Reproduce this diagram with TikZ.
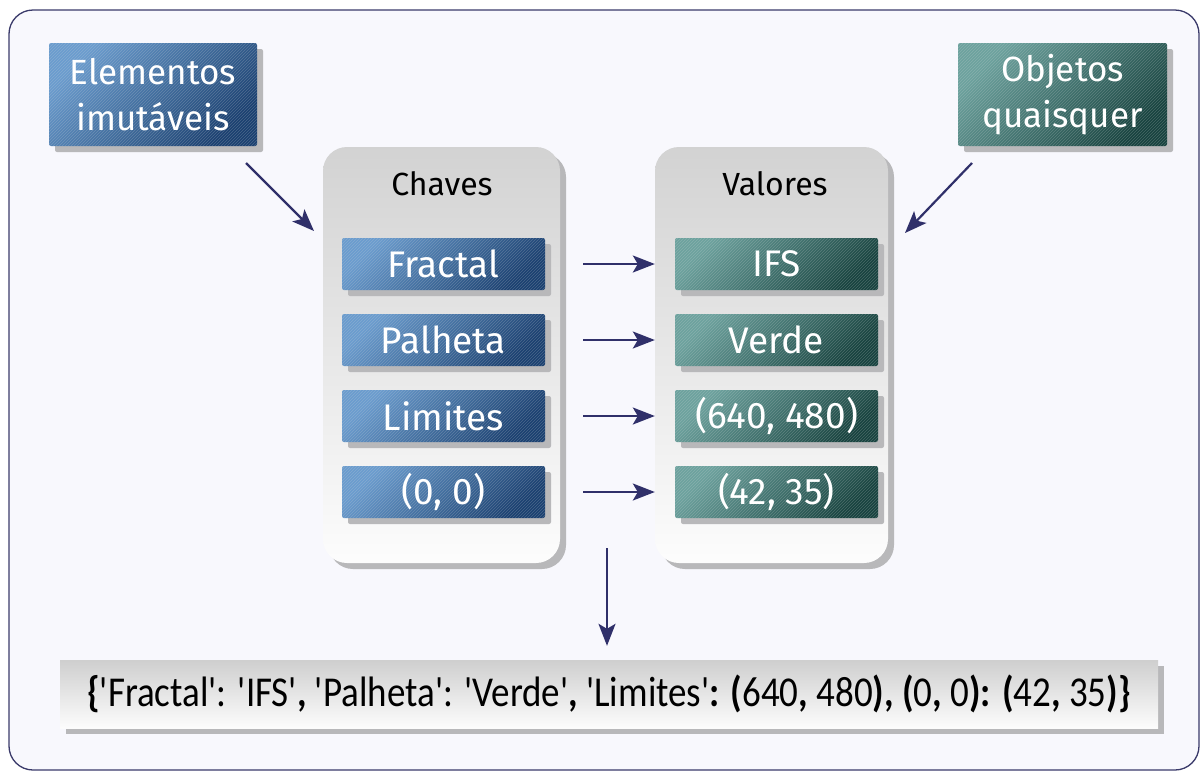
\documentclass[tikz,border=0pt]{standalone}
\usepackage{fontspec}
\usepackage{graphicx}
\setmainfont{Fira Sans}
\newfontfamily\codefont{Carlito}
\usetikzlibrary{arrows.meta,shadows,patterns}
\definecolor{bgc}{HTML}{F8F8FD}
\definecolor{framec}{HTML}{3A3A6A}
\definecolor{arrc}{HTML}{30306A}
\definecolor{bluel}{HTML}{6A9CCE}
\definecolor{blued}{HTML}{1A4070}
\definecolor{teall}{HTML}{6CA29E}
\definecolor{teald}{HTML}{17433F}
\definecolor{shadc}{HTML}{B8B8BA}
\tikzset{
  hatch/.style={postaction={pattern=north east lines, pattern color=white!70!gray, opacity=0.25}},
  sh/.style={drop shadow={shadow xshift=6pt, shadow yshift=-6pt, fill=shadc, opacity=1}},
  bluebox/.style={sh, rounded corners=2pt, top color=bluel, bottom color=blued, shading angle=45, hatch, text=white, align=center, inner sep=0pt},
  tealbox/.style={sh, rounded corners=2pt, top color=teall, bottom color=teald, shading angle=45, hatch, text=white, align=center, inner sep=0pt},
  rowbox/.style={minimum width=203pt, minimum height=52pt, font=\fontsize{37}{40}\selectfont},
  bigbox/.style={minimum width=208pt, minimum height=103pt, font=\fontsize{35}{46}\selectfont},
  container/.style={sh, rounded corners=24pt, top color=gray!35, bottom color=white!98!gray, minimum width=237pt, minimum height=416pt, inner sep=0pt},
  arr/.style={draw=arrc, line width=2.2pt, -{Stealth[length=22pt,width=17pt,inset=5pt]}},
}
\begin{document}
\begin{tikzpicture}[x=1pt,y=-1pt]
\useasboundingbox (0,0) rectangle (1200,772);
\draw[fill=bgc, draw=framec, line width=1.3pt, rounded corners=24pt] (9,10) rectangle (1199,770);

% containers
\node[container] (chaves) at (441.5,355) {};
\node[container, minimum width=233pt] (valores) at (771.5,355) {};
\node[font=\fontsize{32}{36}\selectfont] (chl) at (442,184) {Chaves};
\node[font=\fontsize{32}{36}\selectfont] (val) at (775,184) {Valores};

% top boxes
\node[bluebox, bigbox] (elem) at (153,94.5) {Elementos\\imutáveis};
\node[tealbox, bigbox, minimum width=209pt] (obj) at (1062.5,94.5) {Objetos\\quaisquer};

% key boxes
\node[bluebox, rowbox] (k1) at (443.5,264) {Fractal};
\node[bluebox, rowbox] (k2) at (443.5,340) {Palheta};
\node[bluebox, rowbox] (k3) at (443.5,416) {Limites};
\node[bluebox, rowbox] (k4) at (443.5,492) {(0, 0)};

% value boxes
\node[tealbox, rowbox] (v1) at (776.5,264) {IFS};
\node[tealbox, rowbox] (v2) at (776.5,340) {Verde};
\node[tealbox, rowbox] (v3) at (776.5,416) {(640, 480)};
\node[tealbox, rowbox] (v4) at (776.5,492) {(42, 35)};

% bottom result
\node[sh, top color=gray!38, bottom color=white!98!gray, minimum width=1098pt, minimum height=68pt, inner sep=0pt, font=\codefont\fontsize{37}{40}\selectfont] (res) at (609,694)
 {\scalebox{1}[1.15]{{\bfseries\{}'Fractal': 'IFS'{\bfseries,} 'Palheta': 'Verde'{\bfseries,} 'Limites'{\bfseries:} {\bfseries(}640{\bfseries,} 480{\bfseries),} {\bfseries(}0{\bfseries,} 0{\bfseries):} {\bfseries(}42{\bfseries,} 35{\bfseries)\}}}};

% arrows
\coordinate (a1s) at (246,163);
\coordinate (a1e) at (314,231);
\coordinate (a2s) at (972,163);
\coordinate (a2e) at (905,233);
\draw[arr] (a1s) -- (a1e);
\draw[arr] (a2s) -- (a2e);
\foreach \i in {1,2,3,4}{
  \draw[arr] ([xshift=38pt]k\i.east) -- ([xshift=-20pt]v\i.west);
}
\coordinate (ds) at (607,548);
\draw[arr] (ds) -- ([yshift=14pt]res.north -| ds);
\end{tikzpicture}
\end{document}
